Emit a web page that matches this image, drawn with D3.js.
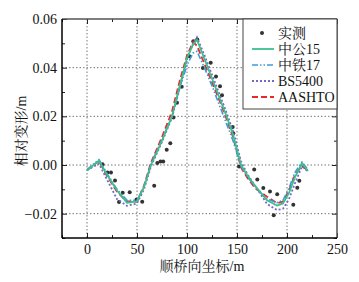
<!DOCTYPE html>
<html><head><meta charset="utf-8">
<script src="https://cdn.jsdelivr.net/npm/d3@7"></script>
<style>
html,body{margin:0;padding:0;background:#fff;}
svg{display:block;}
text{font-family:"Liberation Serif","DejaVu Serif","Noto Serif CJK SC","Noto Sans CJK SC",serif;fill:#111;}
</style></head>
<body>
<svg id="c" width="359" height="282"></svg>
<script>
// ---- data ----
const xTicks = [0, 50, 100, 150, 200, 250];
const yTicks = [-0.02, 0.00, 0.02, 0.04, 0.06];
const seriesNames = ["实测", "中公15", "中铁17", "BS5400", "AASHTO"];

const measuredX = [15.5,20.5,24,28,32,35.7,42.7,49.5,55.2,67.2,70.3,73.5,76.2,79.7,83.3,86.5,90,94.7,102.3,106.3,110.3,115.9,123.7,129,133,135,145.7,146.3,152,167.2,170.3,176.3,183,186.7,190.2,206.3,210.3,212.3];
const measuredY = [0.0003,-0.0031,-0.0031,-0.0064,-0.0152,-0.0114,-0.0112,-0.0142,-0.0151,-0.0085,0.0008,0.0014,0.0014,0.0063,0.0089,0.0195,0.0256,0.0322,0.0447,0.0509,0.0516,0.0399,0.0420,0.0364,0.0324,0.0287,0.0156,0.0130,-0.0006,-0.0018,-0.0060,-0.0095,-0.0109,-0.0206,-0.0120,-0.0163,-0.0094,-0.0065];

const modelX = [0,6,12,20,30,40,50,57,64,75,85,93,100,106,110,118,126,134,140,146,154,160,168,180,190,196,202,208,215,221];
const zg15   = [-0.0023,-0.0002,0.0018,-0.0040,-0.0105,-0.0155,-0.0150,-0.0090,0.0000,0.0100,0.0200,0.0330,0.0440,0.0495,0.0515,0.0430,0.0345,0.0260,0.0195,0.0125,0.0000,-0.0040,-0.0085,-0.0145,-0.0167,-0.0158,-0.0115,-0.0050,0.0008,-0.0025];
const zt17   = [-0.0020,0.0002,0.0022,-0.0035,-0.0100,-0.0145,-0.0145,-0.0090,0.0005,0.0105,0.0200,0.0320,0.0410,0.0460,0.0467,0.0395,0.0315,0.0228,0.0165,0.0100,-0.0005,-0.0045,-0.0090,-0.0140,-0.0155,-0.0145,-0.0095,-0.0030,0.0012,-0.0020];
const bs5400 = [-0.0020,-0.0008,0.0005,-0.0060,-0.0140,-0.0168,-0.0158,-0.0100,-0.0005,0.0095,0.0195,0.0320,0.0435,0.0500,0.0525,0.0445,0.0360,0.0275,0.0210,0.0140,0.0015,-0.0035,-0.0085,-0.0160,-0.0185,-0.0180,-0.0140,-0.0075,-0.0005,-0.0027];
const aashto = [-0.0022,-0.0002,0.0016,-0.0045,-0.0110,-0.0150,-0.0150,-0.0085,0.0010,0.0115,0.0220,0.0350,0.0450,0.0505,0.0490,0.0410,0.0330,0.0250,0.0185,0.0115,-0.0010,-0.0050,-0.0095,-0.0130,-0.0157,-0.0150,-0.0105,-0.0040,-0.0004,-0.0023];

// ---- layout ----
const svg = d3.select("#c");
const L = 62, R = 337, T = 19, B = 238;
const x = d3.scaleLinear().domain([-25, 250]).range([L, R]);
const y = d3.scaleLinear().domain([-0.03, 0.06]).range([B, T]);
const serif = '"Liberation Serif","DejaVu Serif",serif';

// grid
const g = svg.append("g");
g.selectAll(".gx").data(xTicks.filter(v => v < 250)).enter().append("line")
  .attr("x1", d => x(d)).attr("x2", d => x(d)).attr("y1", T).attr("y2", B)
  .attr("stroke", "#777").attr("stroke-width", 1).attr("stroke-dasharray", "1.5,2");
g.selectAll(".gy").data(yTicks.filter(v => v < 0.06)).enter().append("line")
  .attr("x1", L).attr("x2", R).attr("y1", d => y(d)).attr("y2", d => y(d))
  .attr("stroke", "#777").attr("stroke-width", 1).attr("stroke-dasharray", "1.5,2");

// measured dots
svg.append("g").selectAll("circle").data(measuredX.map((v, i) => [v, measuredY[i]])).enter()
  .append("circle").attr("cx", d => x(d[0])).attr("cy", d => y(d[1])).attr("r", 2)
  .attr("fill", "#333");

// model lines
const styles = [
  {data: aashto, color: "#e8282a", dash: "6,3", w: 1.8},
  {data: bs5400, color: "#7468c2", dash: "2,2", w: 1.8},
  {data: zt17, color: "#3b9ad8", dash: "6,2,1.5,2,1.5,2", w: 1.6},
  {data: zg15, color: "#3cbf8f", dash: null, w: 1.8}
];
const line = d3.line().x(d => x(d[0])).y(d => y(d[1]));
styles.forEach(s => {
  svg.append("path").datum(modelX.map((v, i) => [v, s.data[i]]))
    .attr("d", line).attr("fill", "none").attr("stroke", s.color)
    .attr("stroke-width", s.w).attr("stroke-dasharray", s.dash);
});

// axes
const minorX = [-25,25,75,125,175,225];
const minorY = [-0.03,-0.01,0.01,0.03,0.05];
const xa = svg.append("g").attr("transform", `translate(0,${B})`)
  .call(d3.axisBottom(x).tickValues(xTicks).tickSize(-5).tickPadding(6).tickFormat(d3.format("d")));
const xaMinor = svg.append("g").attr("transform", `translate(0,${B})`)
  .call(d3.axisBottom(x).tickValues(minorX).tickSize(-3).tickFormat(""));
const xt = svg.append("g").attr("transform", `translate(0,${T})`)
  .call(d3.axisTop(x).tickValues(xTicks).tickSize(-5).tickFormat(""));
const xtMinor = svg.append("g").attr("transform", `translate(0,${T})`)
  .call(d3.axisTop(x).tickValues(minorX).tickSize(-3).tickFormat(""));
const ya = svg.append("g").attr("transform", `translate(${L},0)`)
  .call(d3.axisLeft(y).tickValues(yTicks).tickSize(-5).tickPadding(5).tickFormat(d => d3.format(".2f")(d).replace("-", "\u2212")));
const yaMinor = svg.append("g").attr("transform", `translate(${L},0)`)
  .call(d3.axisLeft(y).tickValues(minorY).tickSize(-3).tickFormat(""));
const yr = svg.append("g").attr("transform", `translate(${R},0)`)
  .call(d3.axisRight(y).tickValues(yTicks).tickSize(-5).tickFormat(""));
const yrMinor = svg.append("g").attr("transform", `translate(${R},0)`)
  .call(d3.axisRight(y).tickValues(minorY).tickSize(-3).tickFormat(""));

[xa, xaMinor, xt, xtMinor, ya, yaMinor, yr, yrMinor].forEach(a => {
  a.attr("font-family", null);
  a.select(".domain").remove();
  a.selectAll(".tick line").attr("stroke", "#222").attr("stroke-width", 1);
  a.selectAll("text").attr("font-size", 14).attr("fill", "#111").style("font-family", serif);
});

// frame
svg.append("line").attr("x1", L).attr("x2", R).attr("y1", T).attr("y2", T).attr("stroke", "#555").attr("stroke-width", 1.5);
svg.append("line").attr("x1", R).attr("x2", R).attr("y1", T).attr("y2", B).attr("stroke", "#555").attr("stroke-width", 1.5);
svg.append("line").attr("x1", L).attr("x2", L).attr("y1", T).attr("y2", B).attr("stroke", "#000").attr("stroke-width", 1.5);
svg.append("line").attr("x1", L).attr("x2", R).attr("y1", B).attr("y2", B).attr("stroke", "#000").attr("stroke-width", 1.5);

// legend
const lg = svg.append("g");
lg.append("rect").attr("x", 243).attr("y", T).attr("width", R - 243).attr("height", 90)
  .attr("fill", "#fff").attr("stroke", "#444").attr("stroke-width", 1);
const legY = [33, 49, 65, 81, 97];
lg.append("circle").attr("cx", 262).attr("cy", legY[0]).attr("r", 2).attr("fill", "#333");
const legStyles = [styles[3], styles[2], styles[1], styles[0]];
legStyles.forEach((s, i) => {
  lg.append("line").attr("x1", 252).attr("x2", 274).attr("y1", legY[i + 1]).attr("y2", legY[i + 1])
    .attr("stroke", s.color).attr("stroke-width", s.w).attr("stroke-dasharray", s.dash);
});
seriesNames.forEach((n, i) => {
  lg.append("text").attr("x", 278).attr("y", legY[i]).attr("dy", "0.35em")
    .attr("font-size", 14).text(n);
});

// axis titles
svg.append("text").attr("x", 202).attr("y", 271).attr("text-anchor", "middle")
  .attr("font-size", 14).text("顺桥向坐标/m");
svg.append("text").attr("transform", "translate(26,131) rotate(-90)").attr("text-anchor", "middle")
  .attr("font-size", 14).text("相对变形/m");
</script>
</body></html>
